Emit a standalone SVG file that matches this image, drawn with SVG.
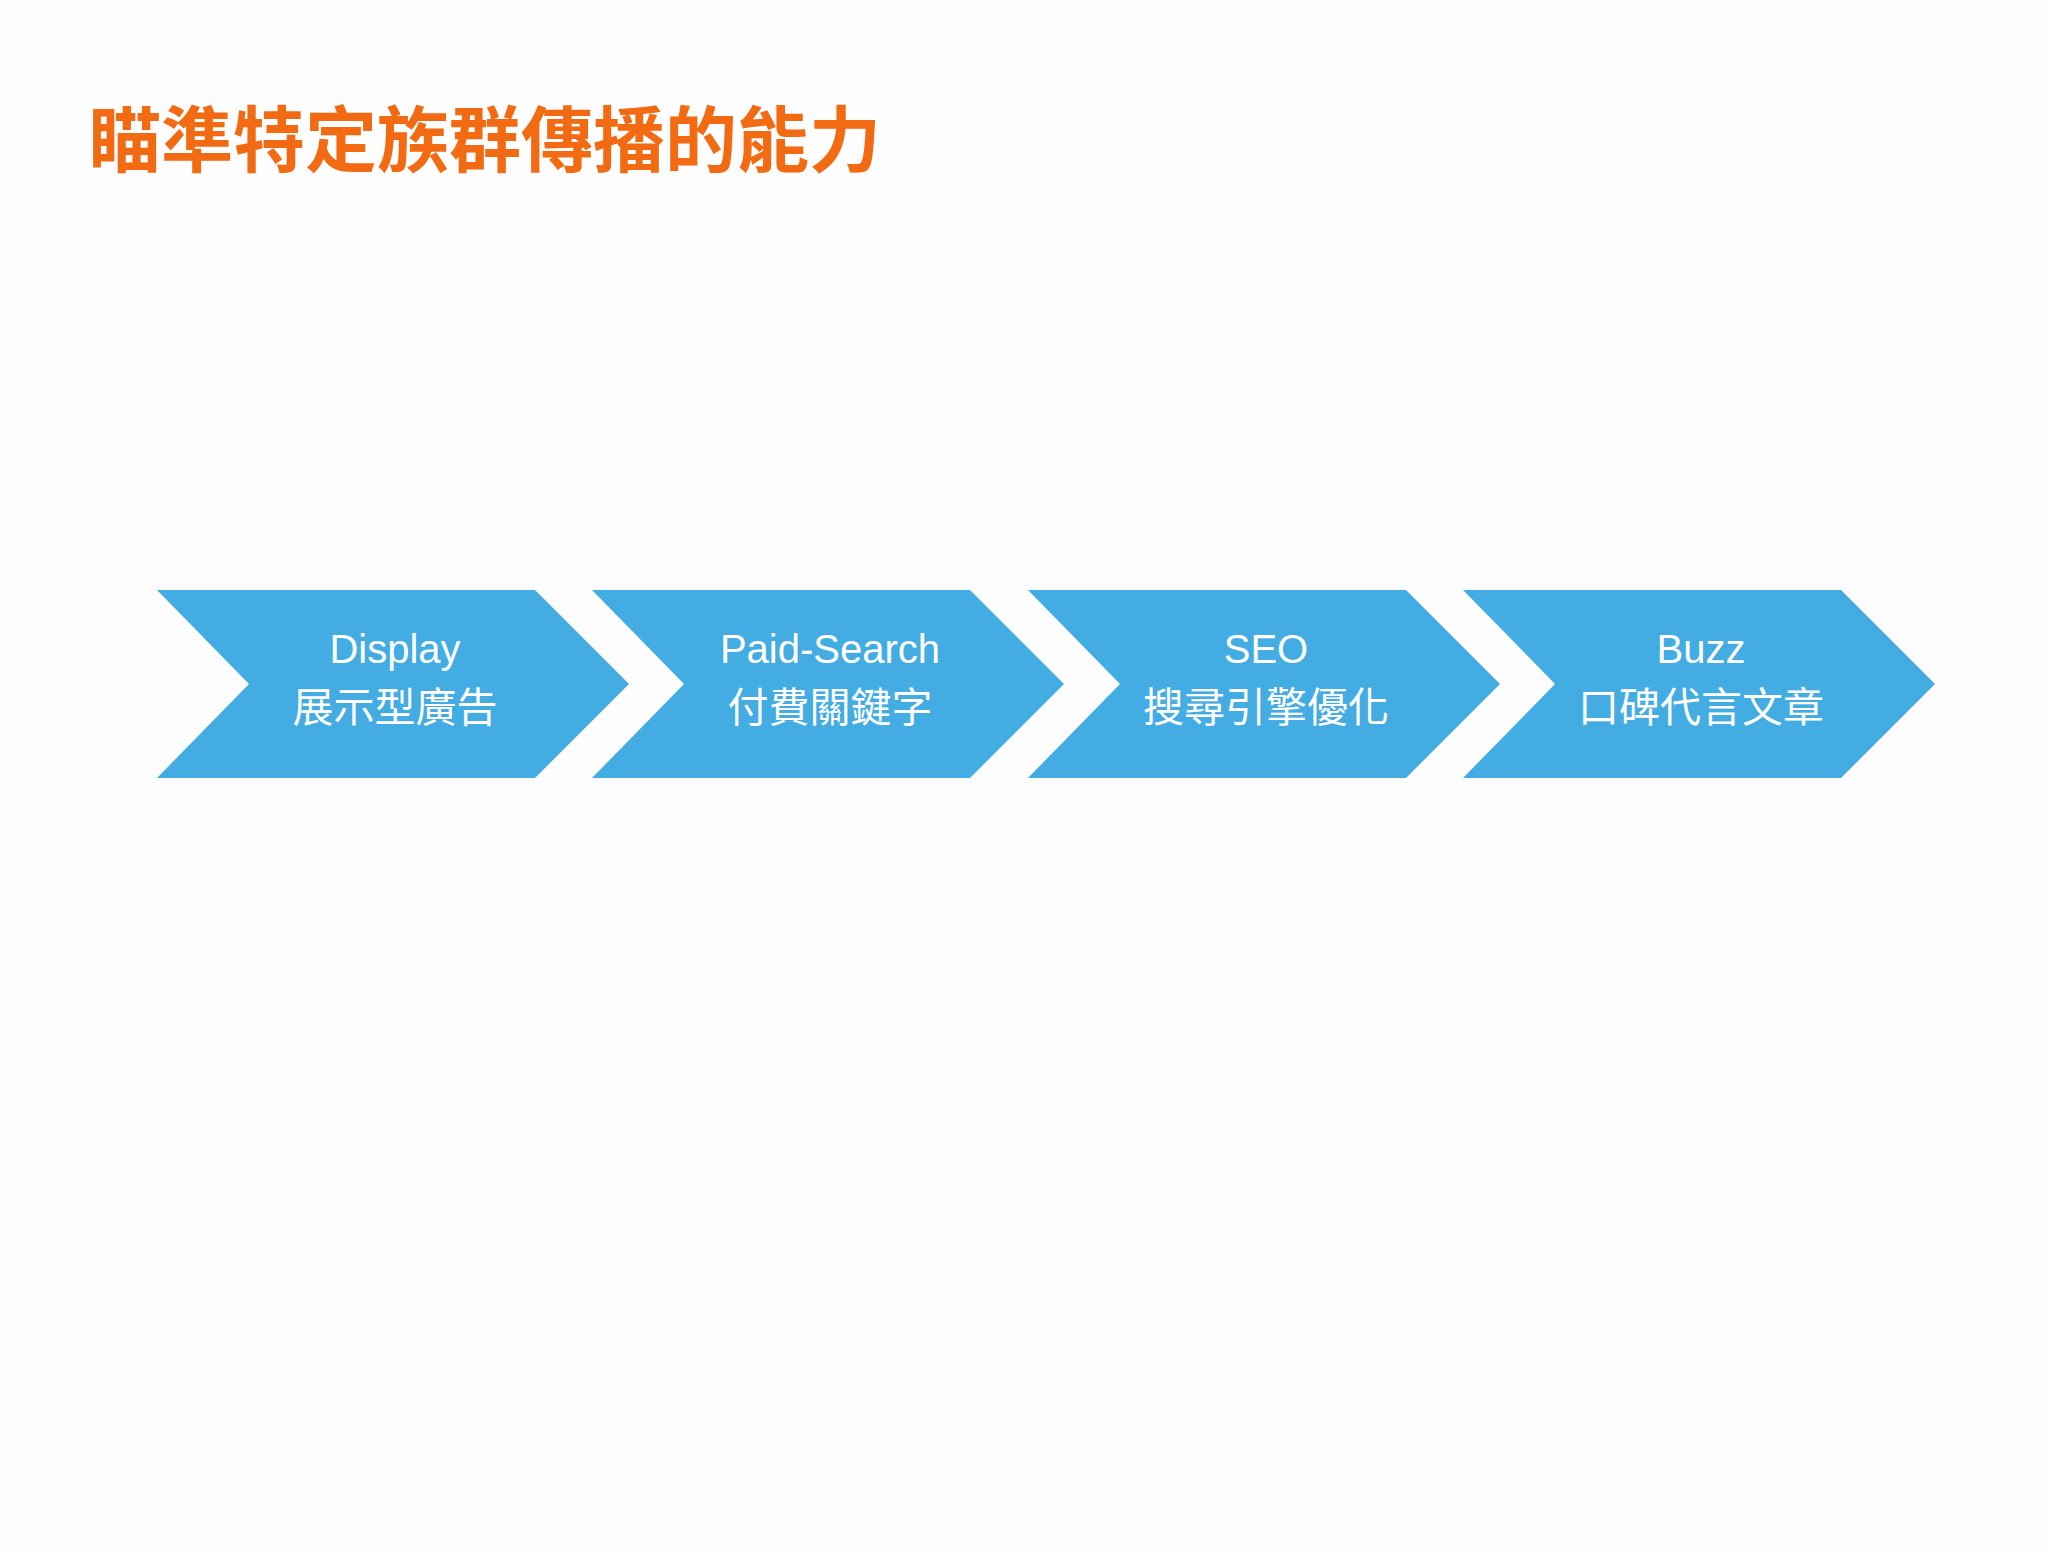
<svg xmlns="http://www.w3.org/2000/svg" width="2048" height="1548" viewBox="0 0 2048 1548">
<style>
.c{fill:#42ace3}
.t{fill:#fff;text-anchor:middle;font-family:"Liberation Sans","Noto Sans CJK TC",sans-serif}
.a{font-size:40px}
.b{font-size:41px}
</style>
<rect width="2048" height="1548" fill="#fdfdfd"/>
<text x="89" y="166" font-family="'Noto Sans CJK TC',sans-serif" font-weight="bold" font-size="72" fill="#f26a12">瞄準特定族群傳播的能力</text>
<g id="n1"><polygon class="c" points="157,590 535,590 629,684 535,778 157,778 249,684"/><text class="t a" x="395" y="663">Display</text><text class="t b" x="395" y="722">展示型廣告</text></g>
<g id="n2"><polygon class="c" points="592,590 970,590 1064,684 970,778 592,778 684,684"/><text class="t a" x="830" y="663">Paid-Search</text><text class="t b" x="830" y="722">付費關鍵字</text></g>
<g id="n3"><polygon class="c" points="1028,590 1406,590 1500,684 1406,778 1028,778 1120,684"/><text class="t a" x="1266" y="663">SEO</text><text class="t b" x="1266" y="722">搜尋引擎優化</text></g>
<g id="n4"><polygon class="c" points="1463,590 1841,590 1935,684 1841,778 1463,778 1555,684"/><text class="t a" x="1701" y="663">Buzz</text><text class="t b" x="1701" y="722">口碑代言文章</text></g>
<g id="connectors"/>
</svg>
